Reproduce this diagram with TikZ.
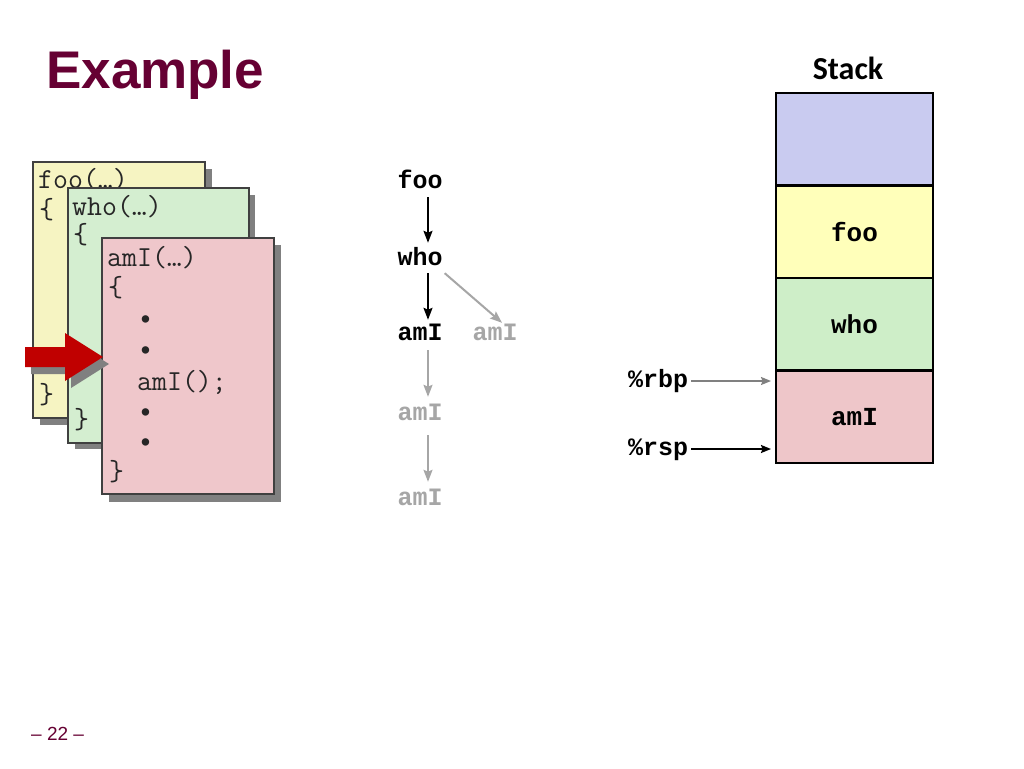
\documentclass[tikz,border=0pt]{standalone}
\usepackage{fontspec}
\setmainfont{Liberation Sans}
\newfontfamily\codefont{Liberation Mono}
\newfontfamily\calib{Carlito}
\usetikzlibrary{arrows.meta,calc}
\definecolor{maroon}{HTML}{660033}
\definecolor{cyel}{RGB}{246,244,194}
\definecolor{cgrn}{RGB}{212,238,208}
\definecolor{cpnk}{RGB}{239,199,203}
\definecolor{sblue}{RGB}{201,203,240}
\definecolor{syel}{RGB}{255,255,186}
\definecolor{sgrn}{RGB}{206,238,200}
\definecolor{spnk}{RGB}{238,198,201}
\definecolor{lgray}{RGB}{166,166,166}
\definecolor{shad}{RGB}{128,128,128}
\definecolor{redarr}{RGB}{192,0,0}
\tikzset{
  card/.style={draw=black!75, line width=1.1pt},
  cardshadow/.style={fill=shad},
  code/.style={anchor=base west, inner sep=0pt, text=black!85, font=\ttfamily\fontsize{29}{29}\selectfont},
  lbl/.style={anchor=base, inner sep=0pt, text height=12pt, text depth=0pt, font=\codefont\bfseries\fontsize{25}{25}\selectfont},
  glbl/.style={lbl, text=lgray},
  barrow/.style={draw=black, line width=2pt, -{Stealth[length=12pt,width=9pt,inset=2pt]}},
  garrow/.style={draw=lgray, line width=2pt, -{Stealth[length=12pt,width=9pt,inset=2pt]}},
  stk/.style={draw=black, line width=2.7pt, minimum width=157pt, minimum height=92.5pt, inner sep=0pt, font=\codefont\bfseries\fontsize{26}{26}\selectfont},
  reg/.style={anchor=base west, inner sep=0pt, font=\codefont\bfseries\fontsize{25}{25}\selectfont}
}
\begin{document}
\begin{tikzpicture}[x=1pt,y=-1pt]
\useasboundingbox[fill=white] (0,0) rectangle (1024,768);

% title and page number
\node[anchor=base west, inner sep=0pt, text=maroon, font=\fontsize{53}{53}\selectfont\bfseries] (title) at (46,88) {Example};
\node[anchor=base west, inner sep=0pt, text=maroon, font=\fontsize{19}{19}\selectfont] (pnum) at (31,740) {– 22 –};

% foo card
\fill[cardshadow] (40,169) rectangle (212,425);
\draw[card, fill=cyel] (33,162) rectangle (205,418);
\node[code] (f1) at (38,188) {foo(…)};
\node[code] (f2) at (39,218) {\{};
\node[code] (f3) at (39,403) {\}};

% who card
\fill[cardshadow] (75,195) rectangle (255,449);
\draw[card, fill=cgrn] (68,188) rectangle (249,443);
\node[code] (w1) at (72,215) {who(…)};
\node[code] (w2) at (73,243) {\{};
\node[code] (w3) at (74,428) {\}};

% amI card
\fill[cardshadow] (109,245) rectangle (281,502);
\draw[card, fill=cpnk] (102,238) rectangle (274,494);
\node[code] (a1) at (107,266) {amI(…)};
\node[code] (a2) at (108,296) {\{};
\node[code] (a3) at (138,326) {•};
\node[code] (a4) at (138,357) {•};
\node[code] (a5) at (137,390) {amI();};
\node[code] (a6) at (138,419) {•};
\node[code] (a7) at (138,449) {•};
\node[code] (a8) at (109,480) {\}};

% red arrow with shadow
\fill[shad] (31,354) -- (71,354) -- (71,340) -- (109,364) -- (71,388) -- (71,374) -- (31,374) -- cycle;
\fill[redarr] (25,347) -- (65,347) -- (65,333) -- (103,357) -- (65,381) -- (65,367) -- (25,367) -- cycle;

% call tree
\node[lbl] (foo) at (420,188) {foo};
\node[lbl] (who) at (420,265) {who};
\node[lbl] (ami1) at (420,340) {amI};
\node[glbl] (amir) at (495,340) {amI};
\node[glbl] (ami2) at (420,420) {amI};
\node[glbl] (ami3) at (420,505) {amI};
\draw[barrow, shorten <=9pt, shorten >=10pt] ([xshift=8pt]foo.south) -- ([xshift=8pt]who.north);
\draw[barrow, shorten <=8pt, shorten >=8pt] ([xshift=8pt]who.south) -- ([xshift=8pt]ami1.north);
\draw[garrow] ($(who.south east)+(2,8)$) -- ($(amir.north)+(7,-5)$);
\draw[garrow, shorten <=10pt, shorten >=11pt] ([xshift=8pt]ami1.south) -- ([xshift=8pt]ami2.north);
\draw[garrow, shorten <=15pt, shorten >=11pt] ([xshift=8pt]ami2.south) -- ([xshift=8pt]ami3.north);

% stack
\node[anchor=base, inner sep=0pt, font=\calib\bfseries\fontsize{32}{32}\selectfont] (stacktitle) at (848,79) {Stack};
\node[stk, fill=sblue] (s0) at (854.5,139.25) {};
\node[stk, fill=syel] (s1) at (854.5,231.75) {foo};
\node[stk, fill=sgrn] (s2) at (854.5,324.25) {who};
\node[stk, fill=spnk] (s3) at (854.5,416.75) {amI};

% registers
\node[reg] (rbp) at (628,387) {\%rbp};
\node[reg] (rsp) at (628,455) {\%rsp};
\coordinate (rbpT) at (771,381);
\coordinate (rspT) at (771,449);
\draw[draw=shad, line width=1.6pt, -{Stealth[length=10pt,width=8pt,inset=1.5pt]}, shorten <=3pt] (rbp.east |- rbpT) -- (rbpT);
\draw[draw=black, line width=1.8pt, -{Stealth[length=10pt,width=8pt,inset=1.5pt]}, shorten <=3pt] (rsp.east |- rspT) -- (rspT);
\end{tikzpicture}
\end{document}
